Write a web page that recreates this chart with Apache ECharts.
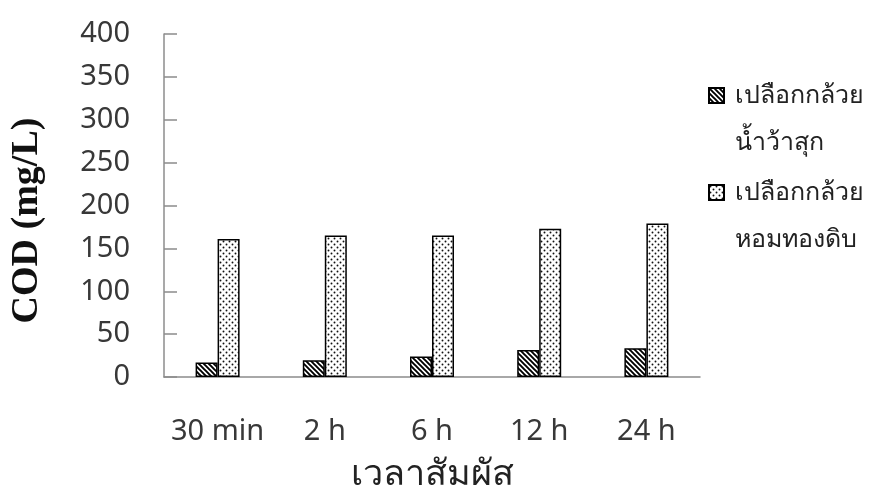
<!DOCTYPE html>
<html>
<head>
<meta charset="utf-8">
<script src="https://cdn.jsdelivr.net/npm/echarts@6/dist/echarts.min.js"></script>
<style>
  html, body { margin: 0; padding: 0; background: #fff; }
  #chart { width: 874px; height: 499px; }
</style>
</head>
<body>
<div id="chart"></div>
<script>
// Contact time categories and COD readings (mg/L)
var categories = ['30 min', '2 h', '6 h', '12 h', '24 h'];
var cookedNamwaPeel = [17, 19.5, 24, 31.5, 33.5];
var rawHomThongPeel = [161, 165, 165, 173, 179];
var seriesNames = ['เปลือกกล้วย\nน้ำว้าสุก', 'เปลือกกล้วย\nหอมทองดิบ'];
var yTicks = { min: 0, max: 400, interval: 50 };

// Fill patterns: diagonal hatching and a staggered dot screen
function hatchPattern() {
  var s = 5;
  var c = document.createElement('canvas');
  c.width = s; c.height = s;
  var g = c.getContext('2d');
  g.fillStyle = '#fff'; g.fillRect(0, 0, s, s);
  g.strokeStyle = '#000'; g.lineWidth = 1.9;
  g.beginPath();
  g.moveTo(-1, -1); g.lineTo(s + 1, s + 1);
  g.moveTo(-s - 1, -1); g.lineTo(1, s + 1);
  g.moveTo(s - 1, -1); g.lineTo(2 * s + 1, s + 1);
  g.stroke();
  return c;
}
function dotPattern() {
  var c = document.createElement('canvas');
  c.width = 6; c.height = 6;
  var g = c.getContext('2d');
  g.fillStyle = '#fff'; g.fillRect(0, 0, 6, 6);
  g.fillStyle = '#111';
  g.beginPath(); g.arc(1.5, 1.5, 0.95, 0, Math.PI * 2); g.fill();
  g.beginPath(); g.arc(4.5, 4.5, 0.95, 0, Math.PI * 2); g.fill();
  return c;
}

var chart = echarts.init(document.getElementById('chart'), null, { renderer: 'canvas' });
var thaiFont = '"Noto Sans", "DejaVu Sans", sans-serif';
var labelColor = '#383838';
var axisColor = '#8c8c8c';

chart.setOption({
  animation: false,
  backgroundColor: '#fff',
  grid: { left: 162, right: 174, top: 34, bottom: 122, containLabel: false },
  legend: {
    orient: 'vertical',
    left: 703,
    top: 20,
    itemWidth: 15,
    itemHeight: 15,
    itemGap: -44,
    icon: 'rect',
    formatter: function (name) { return '\n' + name; },
    textStyle: { fontFamily: thaiFont, fontSize: 25, color: '#222', lineHeight: 47, padding: [0, 0, 0, 6] },
    data: seriesNames
  },
  xAxis: {
    type: 'category',
    data: categories,
    axisLine: { lineStyle: { color: axisColor, width: 1.5 } },
    axisTick: { show: false },
    axisLabel: { interval: 0, fontFamily: '"Noto Sans", sans-serif', fontSize: 29, color: labelColor, margin: 40 },
    name: 'เวลาสัมผัส',
    nameLocation: 'middle',
    nameGap: 80,
    nameTextStyle: { fontFamily: thaiFont, fontSize: 36, color: '#222' }
  },
  yAxis: {
    type: 'value',
    min: yTicks.min,
    max: yTicks.max,
    interval: yTicks.interval,
    splitLine: { show: false },
    axisLine: { show: true, lineStyle: { color: axisColor, width: 1.5 } },
    axisTick: { show: true, inside: true, length: 13, lineStyle: { color: axisColor, width: 1.5 } },
    axisLabel: { fontFamily: '"Noto Sans", sans-serif', fontSize: 29, color: labelColor, margin: 34 },
    name: 'COD (mg/L)',
    nameLocation: 'middle',
    nameRotate: 90,
    nameGap: 118,
    nameTextStyle: { fontFamily: '"Liberation Serif", serif', fontWeight: 'bold', fontSize: 38, color: '#111', padding: [0, 30, 0, 0] }
  },
  series: [
    {
      name: seriesNames[0],
      type: 'bar',
      data: cookedNamwaPeel,
      barWidth: 22,
      barGap: '0%',
      itemStyle: { color: { image: hatchPattern(), repeat: 'repeat' }, borderColor: '#000', borderWidth: 1.5 }
    },
    {
      name: seriesNames[1],
      type: 'bar',
      data: rawHomThongPeel,
      barWidth: 22,
      barGap: '0%',
      itemStyle: { color: { image: dotPattern(), repeat: 'repeat' }, borderColor: '#000', borderWidth: 1.5 }
    }
  ]
});
</script>
</body>
</html>
